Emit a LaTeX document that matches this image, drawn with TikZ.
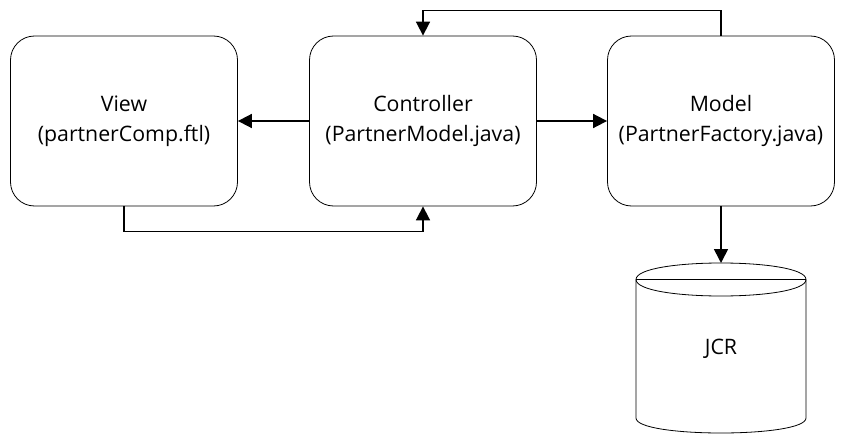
\documentclass[tikz,border=0pt]{standalone}
\usepackage{fontspec}
\setmainfont{Open Sans}
\usetikzlibrary{arrows.meta}
\begin{document}
\begin{tikzpicture}[x=1pt,y=-1pt,
  box/.style={draw,rounded corners=24pt,line width=0.8pt,minimum width=227pt,minimum height=170pt,
    align=center,inner sep=0pt,font=\fontsize{21.3}{29.5}\selectfont},
  conn/.style={line width=1.7pt,-{Triangle[length=14pt,width=14pt]}},
  dbline/.style={line width=0.8pt},
  lbl/.style={font=\fontsize{21.3}{29.5}\selectfont,inner sep=0pt}]
\fill[white] (0,0) rectangle (846,444);
\useasboundingbox (0,0) rectangle (846,444);
\node[box] (view) at (124,121) {View\\(partnerComp.ftl)};
\node[box] (ctrl) at (423,121) {Controller\\(PartnerModel.java)};
\node[box] (model) at (721,121) {Model\\(PartnerFactory.java)};
% cylinder
\draw[dbline] (636,279.5) .. controls (636,257.5) and (806,257.5) .. (806,279.5)
  .. controls (806,301.5) and (636,301.5) .. (636,279.5);
\draw[dbline] (636,279.5) -- (806,279.5);
\draw[dbline] (636,279.5) -- (636,418) .. controls (636,438) and (806,438) .. (806,418) -- (806,279.5);
\coordinate (dbtop) at (721,263);
\node[lbl] (jcr) at (721,349) {JCR};
% connectors
\draw[conn] (ctrl.west) -- (view.east);
\draw[conn] (ctrl.east) -- (model.west);
\draw[conn] (model.north) -- ++(0,-25) -| (ctrl.north);
\draw[conn] (view.south) -- ++(0,25) -| (ctrl.south);
\draw[conn] (model.south) -- (dbtop);
\end{tikzpicture}
\end{document}
